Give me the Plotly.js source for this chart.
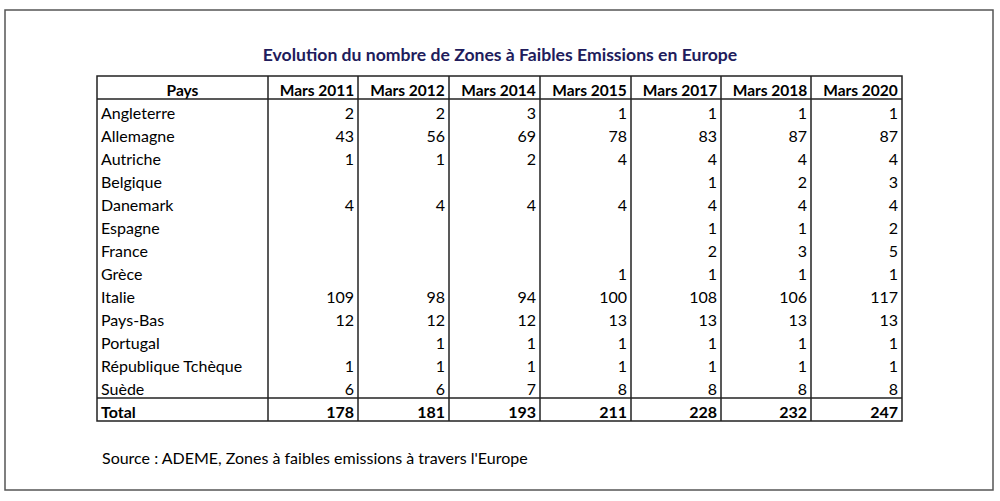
<!DOCTYPE html>
<html><head><meta charset="utf-8">
<script src="https://cdn.plot.ly/plotly-3.0.1.min.js"></script>
<style>html,body{margin:0;padding:0;background:#fff}</style>
</head><body><div id="chart" style="width:1000px;height:501px"></div>
<script>
const title = "Evolution du nombre de Zones à Faibles Emissions en Europe";
const source = "Source : ADEME, Zones à faibles emissions à travers l'Europe";
const headerLabels = ["Pays", "Mars 2011", "Mars 2012", "Mars 2014", "Mars 2015", "Mars 2017", "Mars 2018", "Mars 2020"];
const countries = ["Angleterre", "Allemagne", "Autriche", "Belgique", "Danemark", "Espagne", "France", "Grèce", "Italie", "Pays-Bas", "Portugal", "République Tchèque", "Suède"];
const mars2011 = [2, 43, 1, null, 4, null, null, null, 109, 12, null, 1, 6];
const mars2012 = [2, 56, 1, null, 4, null, null, null, 98, 12, 1, 1, 6];
const mars2014 = [3, 69, 2, null, 4, null, null, null, 94, 12, 1, 1, 7];
const mars2015 = [1, 78, 4, null, 4, null, null, 1, 100, 13, 1, 1, 8];
const mars2017 = [1, 83, 4, 1, 4, 1, 2, 1, 108, 13, 1, 1, 8];
const mars2018 = [1, 87, 4, 2, 4, 1, 3, 1, 106, 13, 1, 1, 8];
const mars2020 = [1, 87, 4, 3, 4, 2, 5, 1, 117, 13, 1, 1, 8];
const totalLabel = "Total";
const totals = [178, 181, 193, 211, 228, 232, 247];

const series = [mars2011, mars2012, mars2014, mars2015, mars2017, mars2018, mars2020];
const colWidths = [171, 90, 91, 91, 91, 90, 90, 91];

const W = 1000, H = 501;
const x0 = 97, x1 = 902, yTop = 76, rowH = 23, pad = 4;
const nRows = countries.length + 2; // header + countries + total
const yBot = yTop + rowH * nRows;
const px = v => v / W, py = v => 1 - v / H;
const FONT = "Lato, 'Open Sans', sans-serif";

const cellCols = [countries.concat([totalLabel])].concat(
  series.map((s, i) => s.map(v => v == null ? "" : String(v)).concat([String(totals[i])]))
);
const weights = cellCols.map(col => col.map((_, r) => r === col.length - 1 ? "bold" : "normal"));

const tableWidths = colWidths.map((w, i) => i === 0 ? w + 2 * pad : w);

const trace = {
  type: "table",
  domain: {x: [px(x0 - pad), px(x1 + pad)], y: [py(yBot), py(yTop)]},
  columnwidth: tableWidths,
  header: {
    values: headerLabels.map(h => h.replace(/ /g, "\u00a0")),
    align: "center",
    height: rowH,
    fill: {color: "rgba(255,255,255,0)"},
    line: {color: "rgba(0,0,0,0)", width: 0},
    font: {family: FONT, size: 15.5, color: "#000", weight: "bold"}
  },
  cells: {
    values: cellCols,
    align: ["left", "right", "right", "right", "right", "right", "right", "right"],
    height: rowH,
    fill: {color: "rgba(255,255,255,0)"},
    line: {color: "rgba(0,0,0,0)", width: 0},
    font: {family: FONT, size: 16, color: "#000", weight: weights}
  }
};

const lineStyle = {color: "#222", width: 1.5};
const shapes = [];
shapes.push({type: "rect", xref: "paper", yref: "paper", x0: px(5), x1: px(993), y0: py(490), y1: py(10), line: {color: "#555", width: 1.5}});
shapes.push({type: "rect", xref: "paper", yref: "paper", x0: px(x0), x1: px(x1), y0: py(yBot), y1: py(yTop), line: lineStyle});
shapes.push({type: "line", xref: "paper", yref: "paper", x0: px(x0), x1: px(x1), y0: py(yTop + rowH), y1: py(yTop + rowH), line: lineStyle});
shapes.push({type: "line", xref: "paper", yref: "paper", x0: px(x0), x1: px(x1), y0: py(yBot - rowH), y1: py(yBot - rowH), line: lineStyle});
const sumW = colWidths.reduce((a, b) => a + b, 0);
let acc = 0;
for (let i = 0; i < colWidths.length - 1; i++) {
  acc += colWidths[i];
  const xx = x0 + (x1 - x0) * acc / sumW;
  shapes.push({type: "line", xref: "paper", yref: "paper", x0: px(xx), x1: px(xx), y0: py(yBot), y1: py(yTop), line: lineStyle});
}

const layout = {
  width: W, height: H,
  margin: {l: 0, r: 0, t: 0, b: 0},
  paper_bgcolor: "#fff",
  title: {text: title, x: 0.5, xanchor: "center", y: py(55), yanchor: "middle", yref: "paper",
          font: {family: FONT, size: 17.6, weight: "bold", color: "#211c5c"}},
  shapes: shapes,
  annotations: [{text: source, xref: "paper", yref: "paper", x: px(100), y: py(457), xanchor: "left", yanchor: "middle",
                 showarrow: false, font: {family: FONT, size: 16, color: "#000"}}]
};

Plotly.newPlot("chart", [trace], layout, {displayModeBar: false, staticPlot: true});
</script></body></html>
